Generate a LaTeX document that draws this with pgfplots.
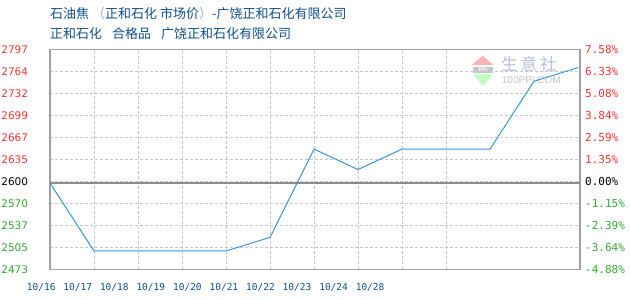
\documentclass[border=0pt]{standalone}
\usepackage{pgfplots}
\pgfplotsset{compat=1.18}
\usepackage{pgfplotstable}
\usepackage{fontspec}
\newfontfamily\cjk{Noto Sans CJK SC}
\newfontfamily\dvsans{DejaVu Sans}
\newfontfamily\dvmono{DejaVu Sans Mono}
\newfontfamily\libsans{Liberation Sans}

\definecolor{titleblue}{RGB}{16,80,140}
\definecolor{upred}{RGB}{255,51,51}
\definecolor{downgreen}{RGB}{51,170,51}
\definecolor{gridgray}{RGB}{200,200,200}
\definecolor{framegray}{RGB}{160,160,160}
\definecolor{zerogray}{RGB}{140,140,140}
\definecolor{linecol}{RGB}{58,150,212}

% daily price, yuan/ton (index 0 = 10/16)
\pgfplotstableread{
idx price
0 2600
1 2500
2 2500
3 2500
4 2500
5 2520
6 2650
7 2620
8 2650
9 2650
10 2650
11 2750
12 2770
}\pricedata

\begin{document}
\begin{tikzpicture}[x=1pt,y=1pt]
\useasboundingbox (0,0) rectangle (630,300);

% heading
\node[anchor=base west, inner sep=0, font=\cjk\fontsize{13}{15}\selectfont, text=titleblue]
  at (50,281) {石油焦 \textcolor{titleblue!45}{（}正和石化 市场价\textcolor{titleblue!45}{）}-广饶正和石化有限公司};
\node[anchor=base west, inner sep=0, font=\cjk\fontsize{13}{15}\selectfont, text=titleblue]
  at (50,261.5) {正和石化\hspace{10pt}合格品\hspace{10pt}广饶正和石化有限公司};

% site logo
\fill[red!30!white] (471.7,235) -- (482.7,244.3) -- (493.3,235) -- cycle;
\fill[blue!12!gray!40!white] (473,226.7) rectangle (493,233.3);
\node[font=\libsans\fontsize{5}{5}\selectfont\bfseries, text=white, inner sep=0] at (483,230) {PPI};
\fill[green!25!white] (473,225.7) -- (493,225.7) -- (483,214.3) -- cycle;
\node[anchor=west, inner sep=0, font=\cjk\fontsize{16.5}{17}\selectfont, text={rgb,255:red,184;green,191;blue,216}]
  at (501,235.5) {生\hspace{3pt}意\hspace{3pt}社};
\node[anchor=base west, inner sep=0, font=\libsans\fontsize{10}{10}\selectfont, text={rgb,255:red,196;green,196;blue,196}]
  at (501.7,216) {100PPI.COM};

% price axis: grid, data, left labels
\begin{axis}[
  at={(50pt,30.7pt)}, anchor=south west, scale only axis,
  width=530pt, height=220pt,
  xmin=0, xmax=12.045, ymin=2473, ymax=2797,
  xtick={0,...,9}, xticklabels={},
  ytick={2473,2505.4,2537.8,2570.2,2602.6,2635,2667.4,2699.8,2732.2,2764.6,2797},
  yticklabels={\color{downgreen}2473,\color{downgreen}2505,\color{downgreen}2537,\color{downgreen}2570,
    \color{black}2600,\color{upred}2635,\color{upred}2667,\color{upred}2699,\color{upred}2732,\color{upred}2764,\color{upred}2797},
  yticklabel style={font=\dvsans\fontsize{10.5}{12}\selectfont, anchor=east, inner sep=0pt, xshift=-21.7pt},
  grid=major,
  major grid style={gridgray, dash pattern=on 3pt off 2pt, line width=0.9pt},
  major tick length=0,
  axis line style={framegray, line width=1.3pt},
  extra y ticks={2600}, extra y tick labels={},
  extra y tick style={grid=major, major grid style={zerogray, solid, line width=1.3pt}},
]
\addplot[linecol, line width=1pt, mark=none] table[x=idx, y=price] {\pricedata};
\end{axis}

% change-from-base axis on the right
\begin{axis}[
  at={(50pt,30.7pt)}, anchor=south west, scale only axis,
  width=530pt, height=220pt,
  xmin=0, xmax=12.045, ymin=2473, ymax=2797,
  hide x axis, axis y line*=right, y axis line style={draw=none},
  major tick length=0,
  ytick={2473,2505.4,2537.8,2570.2,2602.6,2635,2667.4,2699.8,2732.2,2764.6,2797},
  yticklabels={\color{downgreen}-4.88\%,\color{downgreen}-3.64\%,\color{downgreen}-2.39\%,\color{downgreen}-1.15\%,
    \color{black}0.00\%,\color{upred}1.35\%,\color{upred}2.59\%,\color{upred}3.84\%,\color{upred}5.08\%,\color{upred}6.33\%,\color{upred}7.58\%},
  yticklabel style={font=\dvmono\fontsize{11}{12}\selectfont, anchor=west, inner sep=0pt, xshift=5pt},
]
\end{axis}

% date labels
\begin{axis}[
  at={(0pt,30.7pt)}, anchor=south west, scale only axis,
  width=630pt, height=220pt,
  xmin=0, xmax=630, ymin=0, ymax=1,
  hide y axis, axis x line*=bottom, x axis line style={draw=none},
  major tick length=0,
  xtick={41.2,77.7,114.3,150.8,187.4,223.9,260.5,297,333.6,370.1},
  xticklabels={10/16,10/17,10/18,10/19,10/20,10/21,10/22,10/23,10/24,10/28},
  xticklabel style={font=\dvmono\fontsize{9.5}{10}\selectfont, text=titleblue, anchor=base, inner sep=0pt, yshift=-21.7pt},
]
\end{axis}
\end{tikzpicture}
\end{document}
